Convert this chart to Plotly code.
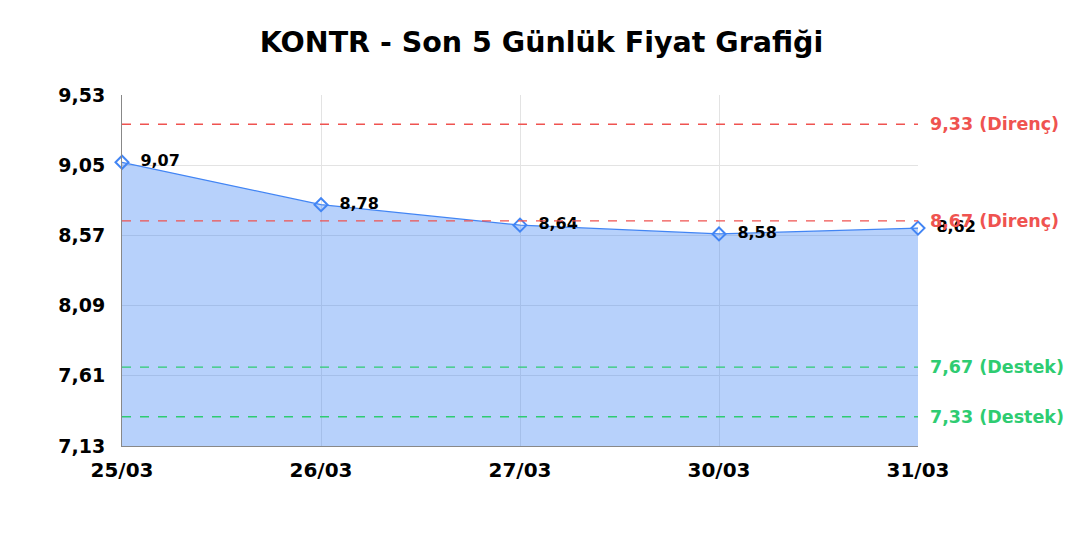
import plotly.graph_objects as go

# son 5 gunluk kapanis fiyatlari
tarihler = ['25/03', '26/03', '27/03', '30/03', '31/03']
fiyatlar = [9.07, 8.78, 8.64, 8.58, 8.62]
direnc = [9.33, 8.67]
destek = [7.67, 7.33]
y_ticks = [7.13, 7.61, 8.09, 8.57, 9.05, 9.53]

KIRMIZI = '#ef5350'
YESIL = '#2ecc71'
MAVI = '#4285f4'
FONT = 'DejaVu Sans'

fig = go.Figure()
fig.add_trace(go.Scatter(
    x=tarihler, y=fiyatlar,
    mode='lines+markers+text',
    line=dict(color=MAVI, width=1.2),
    fill='tozeroy', fillcolor='rgba(66,133,244,0.38)',
    marker=dict(symbol='diamond-open', size=10, color=MAVI, line=dict(width=2)),
    texttemplate='  %{y:.2f}', textposition='middle right',
    textfont=dict(family=FONT, size=16, color='black', weight='bold'),
    cliponaxis=False, showlegend=False,
))

for v in direnc:
    fig.add_hline(y=v, line=dict(color=KIRMIZI, width=1.3, dash='dash'))
    fig.add_annotation(x=1, xref='paper', y=v, yref='y', xanchor='left', xshift=10,
                       text='{:.2f} (Direnç)'.format(v).replace('.', ','), showarrow=False,
                       font=dict(family=FONT, size=17.5, color=KIRMIZI, weight='bold'))
for v in destek:
    fig.add_hline(y=v, line=dict(color=YESIL, width=1.3, dash='dash'))
    fig.add_annotation(x=1, xref='paper', y=v, yref='y', xanchor='left', xshift=10,
                       text='{:.2f} (Destek)'.format(v).replace('.', ','), showarrow=False,
                       font=dict(family=FONT, size=17.5, color=YESIL, weight='bold'))

fig.update_layout(
    width=1080, height=540,
    separators=',.',
    paper_bgcolor='white', plot_bgcolor='white',
    margin=dict(l=114, r=170, t=87, b=102),
    title=dict(text='KONTR - Son 5 Günlük Fiyat Grafiği', x=0.494, xanchor='center', y=0.955,
               font=dict(family=FONT, size=28.5, color='black', weight='bold')),
    font=dict(family=FONT),
)
fig.update_xaxes(
    type='category', range=[0, len(tarihler) - 1],
    showgrid=True, gridcolor='#e3e3e3', showline=True, linecolor='#888888',
    tickfont=dict(family=FONT, size=20, color='black', weight='bold'),
    ticks='', zeroline=False, ticklabelstandoff=6,
)
fig.update_yaxes(
    range=[7.13, 9.53], tickvals=y_ticks, tickformat='.2f',
    showgrid=True, gridcolor='#e3e3e3', showline=True, linecolor='#888888',
    tickfont=dict(family=FONT, size=19, color='black', weight='bold'),
    ticks='', zeroline=False, ticklabelstandoff=12,
)

fig.write_html('out.html')
